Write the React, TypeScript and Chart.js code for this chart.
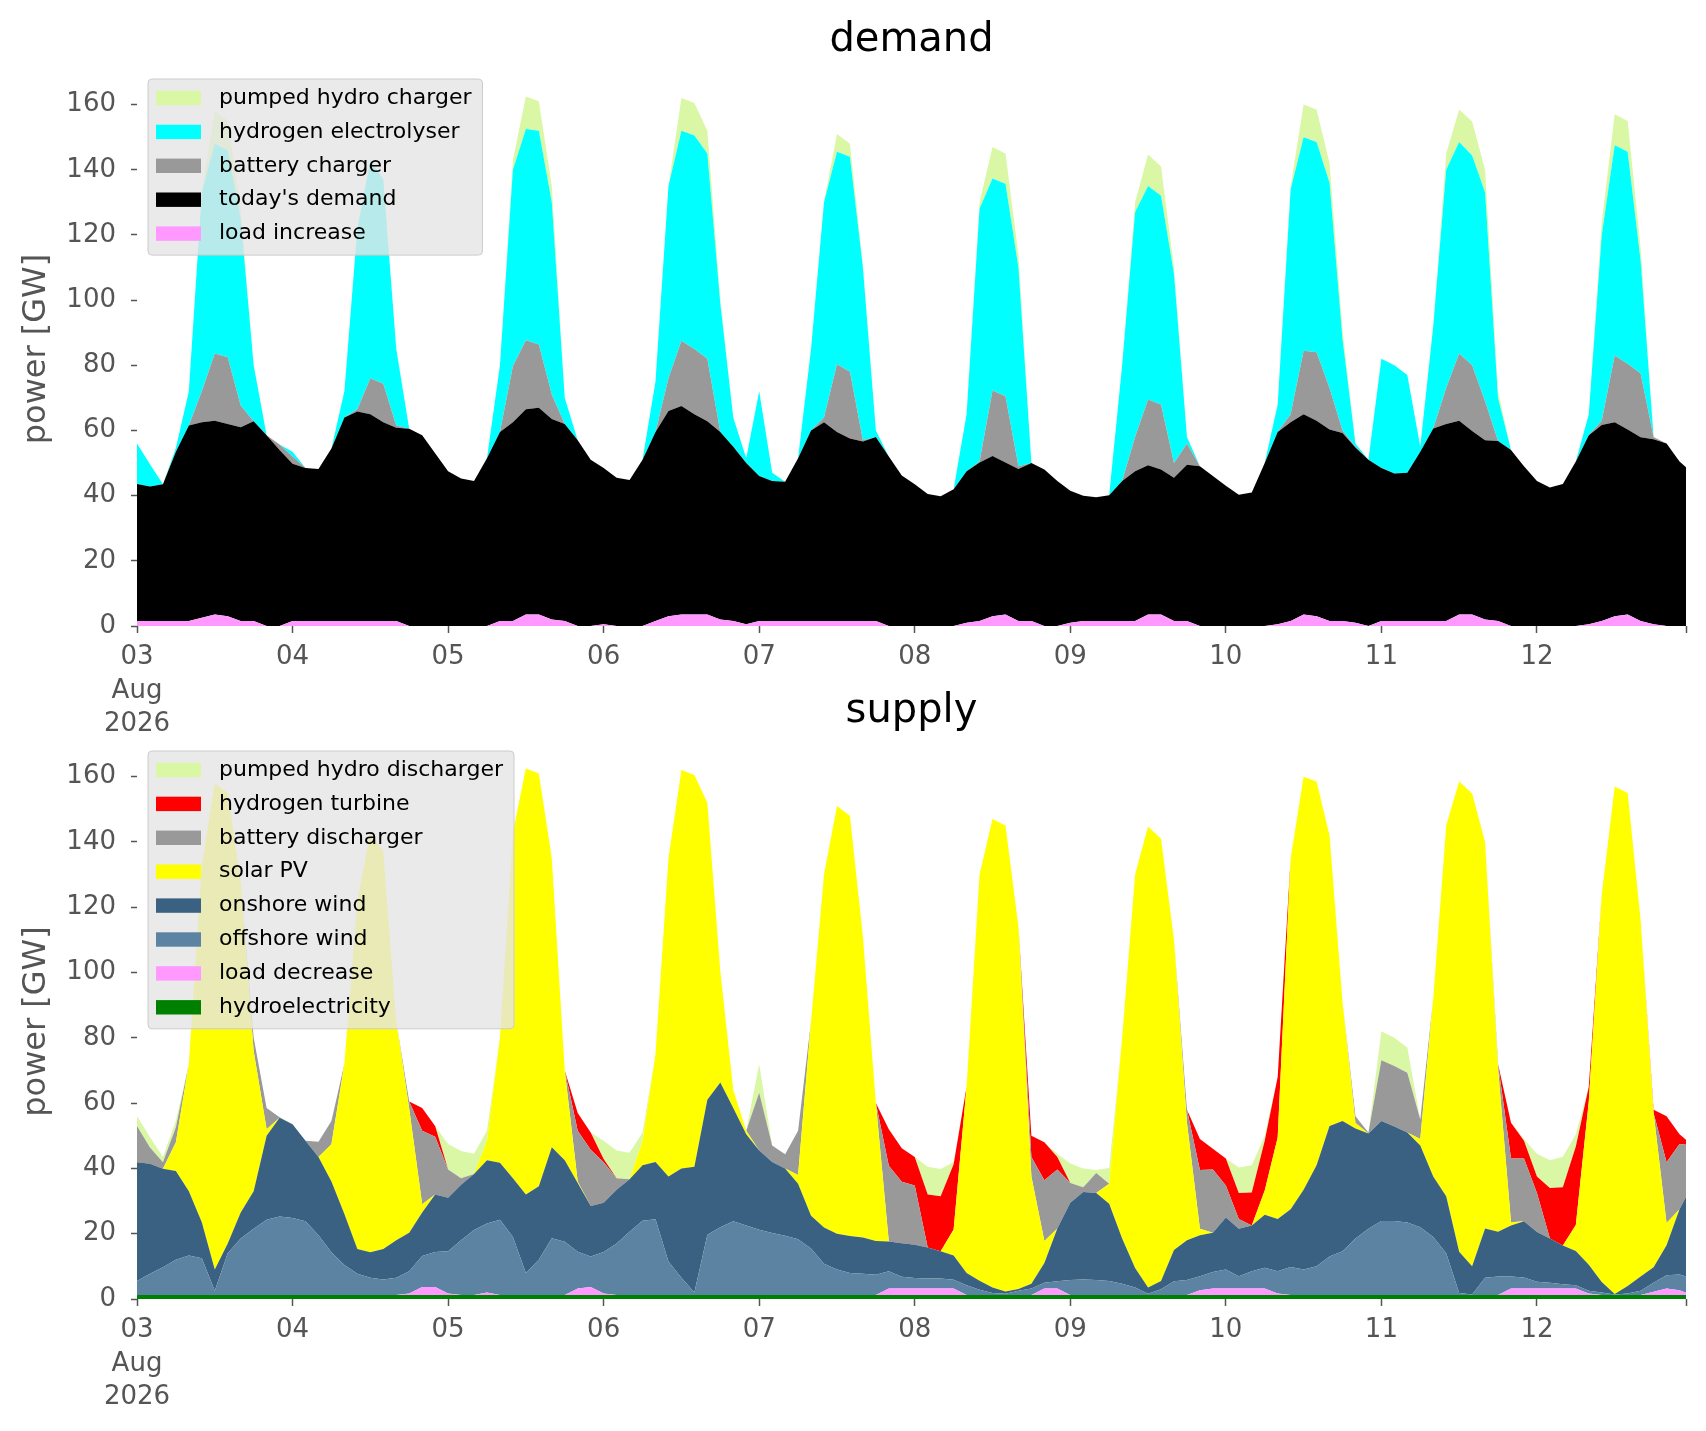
import React, { useEffect, useRef } from "react";
import { Chart, registerables } from "chart.js";
Chart.register(...registerables);

// time axis: 2-hourly steps from 03 Aug 2026 00:00 (in hours)
const HOURS = Array.from({ length: 121 }, (_, k) => 2 * k);
const DAYS = HOURS.map((h) => h / 24);
const DAY_TICKS = [0, 1, 2, 3, 4, 5, 6, 7, 8, 9];
const DAY_LABELS = ["03", "04", "05", "06", "07", "08", "09", "10", "11", "12"];
const MONTH_LABEL = "Aug";
const YEAR_LABEL = "2026";
const X_MAX_HOURS = 239;
const Y_TICKS = [0, 20, 40, 60, 80, 100, 120, 140, 160];

// ---------------- demand (GW) ----------------
const loadIncrease = [
  1.5, 1.5, 1.5, 1.5, 1.5, 2.5, 3.5, 3, 1.5, 1.5,
  0, 0, 1.5, 1.5, 1.5, 1.5, 1.5, 1.5, 1.5, 1.5,
  1.5, 0, 0, 0, 0, 0, 0, 0, 1.5, 1.5,
  3.5, 3.5, 2, 1.5, 0, 0, 0.5, 0, 0, 0,
  1.5, 3, 3.5, 3.5, 3.5, 2, 1.5, 0.5, 1.5, 1.5,
  1.5, 1.5, 1.5, 1.5, 1.5, 1.5, 1.5, 1.5, 0, 0,
  0, 0, 0, 0, 1, 1.5, 3, 3.5, 1.5, 1.5,
  0, 0, 1, 1.5, 1.5, 1.5, 1.5, 1.5, 3.5, 3.5,
  1.5, 1.5, 0, 0, 0, 0, 0, 0, 0.5, 1.5,
  3.5, 3, 1.5, 1.5, 1, 0, 1.5, 1.5, 1.5, 1.5,
  1.5, 1.5, 3.5, 3.5, 2, 1.5, 0, 0, 0, 0,
  0, 0, 0.5, 1.5, 3, 3.5, 1.5, 0.5, 0, 0,
  0,
];
const todaysDemand = [
  42.1, 41.3, 42, 52, 60, 60, 59.5, 59, 59.5, 61.3,
  58.5, 54, 48.3, 47, 46.7, 53, 62.5, 64.3, 63.5, 61,
  59.3, 60.5, 58.5, 53, 47.5, 45.3, 44.5, 51.5, 58, 61,
  63, 63.5, 61.5, 60.5, 57, 51, 48, 45.5, 44.8, 51,
  58, 63, 64, 61.5, 59.3, 57.5, 53.5, 49.5, 44.5, 43,
  42.8, 50, 58.5, 61, 58, 56, 55.1, 56.5, 52, 46.2,
  43.5, 40.5, 39.8, 42, 46.5, 48.7, 49.2, 46.7, 46.7, 48.5,
  48, 44.5, 40.5, 38.5, 38, 38.6, 43, 46, 45.8, 44.5,
  44, 48, 49, 46, 43, 40.3, 41, 50, 59, 61,
  61.5, 60, 58.8, 57.7, 53.8, 51, 47, 45.3, 45.5, 52,
  59.1, 60.5, 59.5, 56.3, 55, 55.3, 54, 49, 44.5, 42.5,
  43.6, 50.5, 58, 60.2, 59.5, 56.8, 56.4, 56.8, 56, 50.5,
  47,
];
const batteryCharger = [
  0, 0, 0, 0, 0, 9.5, 20.6, 20.5, 6.7, 0,
  0, 1.7, 2.2, 0, 0, 0, 0, 0.7, 11, 11.8,
  0.7, 0, 0, 0, 0, 0, 0, 0, 0, 17.3,
  21.2, 19.4, 7.5, 0, 0, 0, 0, 0, 0, 0,
  0, 10, 20, 20, 19.2, 0, 0, 0, 0, 0,
  0, 0, 0, 1.5, 20.8, 20.5, 0.4, 0, 0, 0,
  0, 0, 0, 0, 0, 0.3, 20.1, 20.3, 0.8, 0,
  0, 0, 0, 0, 0, 0, 0, 10.5, 20.2, 20,
  4.5, 6.5, 0, 0, 0, 0, 0, 0, 0, 2.5,
  19.5, 21, 12.7, 0.8, 0.2, 0, 0, 0, 0, 0,
  0, 11, 20.6, 20.2, 12, 0, 0, 0, 0, 0,
  0, 0, 0, 1.3, 20.5, 20.2, 19.6, 0.7, 0, 0,
  0,
];
const hydrogenElectrolyser = [
  12.4, 6.8, 0, 1.1, 10.5, 61, 64.4, 63.5, 57.3, 17.2,
  0, 0, 1.5, 0, 0, 0, 8, 55.5, 67, 62.7,
  23.5, 0, 0, 0, 0, 0, 0, 0, 20.5, 60.2,
  64.8, 65.6, 59, 8, 0, 0, 0, 0, 0, 0,
  15.5, 59, 64.5, 65.5, 63, 39.5, 9, 1.5, 26, 2.5,
  0, 0, 25, 66, 65.2, 66, 53, 2, 0, 0,
  0, 0, 0, 0, 17.5, 77.5, 65, 65.2, 61, 0,
  0, 0, 0, 0, 0, 0, 35.5, 69, 65.5, 64,
  58, 2, 0, 0, 0, 0, 0, 0, 8.5, 69,
  65.5, 64.5, 63, 28, 1, 0, 33.5, 33.2, 30, 1.5,
  31.4, 67, 64.9, 64.4, 64, 13.2, 0, 0, 0, 0,
  0, 0, 6.5, 57, 64.5, 65, 34.5, 0, 0, 0,
  0,
];
const pumpedHydroCharger = [
  0, 0, 0, 0, 0, 0, 10, 9, 3, 0,
  0, 0, 0, 0, 0, 0, 0, 0, 0, 0,
  0, 0, 0, 0, 0, 0, 0, 0, 0, 3,
  10, 9, 5, 0, 0, 0, 0, 0, 0, 0,
  0, 0, 10, 10, 7, 1.5, 0, 0, 0, 0,
  0, 0, 0, 0, 5.5, 4, 1, 0, 0, 0,
  0, 0, 0, 0, 0, 2, 9.7, 9.3, 4, 0,
  0, 0, 0, 0, 0, 0, 0, 3, 9.7, 9,
  2, 0, 0, 0, 0, 0, 0, 0, 0, 1,
  10, 10, 6, 3, 0, 0, 0, 0, 0, 0,
  0, 5, 10, 10.4, 7, 2, 0, 0, 0, 0,
  0, 0, 0, 4, 9.5, 9.5, 4, 0, 0, 0,
  0,
];

// ---------------- supply (GW) ----------------
const hydroelectricity = [
  1.2, 1.2, 1.2, 1.2, 1.2, 1.2, 1.2, 1.2, 1.2, 1.2,
  1.2, 1.2, 1.2, 1.2, 1.2, 1.2, 1.2, 1.2, 1.2, 1.2,
  1.2, 1.2, 1.2, 1.2, 1.2, 1.2, 1.2, 1.2, 1.2, 1.2,
  1.2, 1.2, 1.2, 1.2, 1.2, 1.2, 1.2, 1.2, 1.2, 1.2,
  1.2, 1.2, 1.2, 1.2, 1.2, 1.2, 1.2, 1.2, 1.2, 1.2,
  1.2, 1.2, 1.2, 1.2, 1.2, 1.2, 1.2, 1.2, 1.2, 1.2,
  1.2, 1.2, 1.2, 1.2, 1.2, 1.2, 1.2, 1.2, 1.2, 1.2,
  1.2, 1.2, 1.2, 1.2, 1.2, 1.2, 1.2, 1.2, 1.2, 1.2,
  1.2, 1.2, 1.2, 1.2, 1.2, 1.2, 1.2, 1.2, 1.2, 1.2,
  1.2, 1.2, 1.2, 1.2, 1.2, 1.2, 1.2, 1.2, 1.2, 1.2,
  1.2, 1.2, 1.2, 1.2, 1.2, 1.2, 1.2, 1.2, 1.2, 1.2,
  1.2, 1.2, 1.2, 1.2, 1.2, 1.2, 1.2, 1.2, 1.2, 1.2,
  1.2,
];
const loadDecrease = [
  0, 0, 0, 0, 0, 0, 0, 0, 0, 0,
  0, 0, 0, 0, 0, 0, 0, 0, 0, 0,
  0, 0.5, 2.5, 2.5, 0.5, 0, 0, 0.8, 0, 0,
  0, 0, 0, 0, 2, 2.5, 0.5, 0, 0, 0,
  0, 0, 0, 0, 0, 0, 0, 0, 0, 0,
  0, 0, 0, 0, 0, 0, 0, 0, 2, 2,
  2, 2, 2, 2, 0, 0, 0, 0, 0, 0,
  2, 2, 0, 0, 0, 0, 0, 0, 0, 0,
  0, 0, 1.5, 2, 2, 2, 2, 2, 0.5, 0,
  0, 0, 0, 0, 0, 0, 0, 0, 0, 0,
  0, 0, 0, 0, 0, 0, 2, 2, 2, 2,
  2, 2, 0.5, 0, 0, 0, 0, 1, 2, 1.5,
  0,
];
const offshoreWind = [
  4.3, 6.5, 8.5, 10.8, 12.1, 11.3, 1.3, 12.8, 17.3, 20.3,
  23.1, 24.1, 23.6, 22.6, 18.3, 13.1, 9.2, 6.5, 5.3, 4.8,
  5.3, 6.8, 9.5, 10.7, 12.9, 16.8, 19.9, 21.1, 23.1, 17.8,
  6.8, 10.8, 17.4, 16.3, 11.3, 9.3, 12.7, 15.8, 19.4, 22.8,
  23.2, 10.3, 5.3, 0.8, 18.5, 20.8, 22.6, 21.3, 20, 19,
  18.2, 17.1, 14.3, 9.6, 7.8, 6.8, 6.5, 6.2, 5.3, 3.6,
  3.2, 3.1, 3.1, 2.7, 3, 1.6, 0.6, 0.4, 1.3, 2,
  1.8, 2.2, 4.6, 4.8, 4.6, 4.3, 3.5, 2.3, 0.4, 1.8,
  4.2, 4.6, 4.3, 5.1, 5.8, 3.8, 5.3, 6.4, 6.8, 8.6,
  7.8, 8.8, 11.8, 13.4, 17.3, 20.3, 22.7, 22.7, 22.2, 20.8,
  17.8, 12.8, 0.6, 0.2, 5.3, 5.7, 3.7, 3.4, 2.1, 1.8,
  1.3, 1, 0.8, 0.8, 0.2, 0.5, 1.3, 2.8, 4.1, 4.8,
  5.1,
];
const onshoreWind = [
  36.4, 33.7, 30.2, 27.2, 19.7, 11, 6.5, 3, 8, 11.5,
  25.7, 30.2, 28.7, 24.7, 24, 21.7, 15.6, 7.6, 7.8, 9.3,
  11.5, 11.8, 13.3, 17.6, 16.4, 17, 17.2, 19.4, 17.4, 18,
  24, 22.5, 27.9, 25, 21, 15.5, 15.1, 16.5, 16.1, 17,
  17.6, 26, 33.5, 38.5, 41.3, 44.3, 34.7, 28, 24.3, 21.8,
  20.6, 17, 10, 11.1, 11, 11.3, 11.1, 10.4, 9.1, 10.3,
  10.2, 9.5, 8.3, 7.4, 3.8, 2.8, 1.7, 0.7, 0.6, 1.5,
  6, 16.2, 23.7, 26.8, 26.7, 23.7, 13.8, 6, 1.9, 2.5,
  9.6, 12.2, 12.5, 12, 16, 14.5, 14, 16.2, 16, 17.7,
  24.5, 31, 40, 39.9, 33.7, 29.2, 30.6, 28.9, 27.6, 25,
  18.5, 17.5, 12.7, 8.6, 15.1, 13.7, 15.6, 17.2, 15.2, 13.5,
  11.9, 10.5, 8, 3.2, 0.1, 2.3, 4.4, 4.7, 9.2, 20,
  28.7,
];
const solarPV = [
  0, 0, 0, 8.8, 39, 109.5, 149, 138, 101.5, 43,
  2, 0, 0, 0, 0, 11.4, 46, 106.7, 128.7, 121.7,
  67, 38, 2.5, 0, 0, 0, 0, 6, 38.3, 106,
  130.5, 126.5, 88.5, 27.5, 0.5, 0, 0, 0, 0, 7.5,
  33, 97.5, 122, 120, 91, 34.2, 5.5, 1, 0, 0,
  0, 2.7, 59.5, 108.1, 131, 128.7, 92.2, 42.2, 0, 0,
  0, 0, 0, 8, 57, 124.4, 143.5, 142.7, 110.9, 32.8,
  6.8, 0, 0, 0, 0, 6.1, 61.5, 120.5, 141.2, 135.5,
  95, 36, 2, 0, 0, 0, 0, 7.4, 25, 107.5,
  126.5, 117.5, 89, 36.5, 1.7, 0, 0, 0, 0, 2,
  54.5, 113.5, 144, 144.8, 118.4, 50, 1, 0, 0, 0,
  0, 8, 50, 118.8, 155.5, 151, 109.1, 47.3, 6.8, 0,
  0,
];
const batteryDischarger = [
  11.1, 5, 2, 4.6, 0, 0, 0, 0, 0, 4,
  6.5, 0.2, 0, 0, 4.7, 7.1, 0, 0, 0, 0,
  0, 2.2, 22.5, 17.7, 8.7, 2, 0, 0, 0, 0,
  0, 0, 0, 0, 15.5, 17.2, 12.4, 3.5, 0, 0,
  0, 0, 0, 0, 0, 0, 0, 0, 17.7, 5,
  4.3, 13.5, 0, 0, 0, 0, 0, 0, 23.2, 18.8,
  18.2, 0, 0, 0, 0, 0, 0, 0, 0, 6,
  18.6, 18.1, 6, 1.4, 6.1, 0, 0, 0, 0, 0,
  0, 4, 18, 19.4, 9.8, 3, 0, 0, 0, 0,
  0, 0, 0, 0, 2.1, 0.3, 18.6, 18.6, 18.3, 6,
  0, 0, 0, 0, 0, 1.4, 19.5, 19.2, 12, 0,
  0, 0, 0, 0, 0, 0, 0, 0, 18.6, 20,
  12,
];
const hydrogenTurbine = [
  0, 0, 0, 0, 0, 0, 0, 0, 0, 0,
  0, 0, 0, 0, 0, 0, 0, 0, 0, 0,
  0, 0, 7, 3.3, 0, 0, 0, 0, 0, 0,
  0, 0, 0, 0, 5.5, 5.3, 1, 0, 0, 0,
  0, 0, 0, 0, 0, 0, 0, 0, 0, 0,
  0, 0, 0, 0, 0, 0, 0, 0, 11.2, 10.3,
  8.7, 16.2, 16.9, 20, 0, 0, 0, 0, 0, 6.5,
  11.6, 3.8, 0, 0, 0, 0, 0, 0, 0, 0,
  0, 0, 9.5, 6.3, 8.2, 8, 10.1, 15.3, 18.5, 0,
  0, 0, 0, 0, 0, 0, 0, 0, 0, 0,
  0, 0, 0, 0, 0, 0, 11, 5.5, 5, 15.5,
  17.8, 24, 4.5, 0, 0, 0, 0, 1, 14.1, 3,
  0,
];
const pumpedHydroDischarger = [
  3, 3.2, 1.6, 2, 0, 0, 0, 0, 0, 0,
  0, 0, 0, 0, 0, 0, 0, 0, 0, 0,
  0, 0, 0, 0, 7.8, 8.3, 6.2, 3, 0, 0,
  0, 0, 0, 0, 0, 0, 5.6, 8.5, 8.1, 2.5,
  0, 0, 0, 0, 0, 0, 0, 0, 8.8, 0,
  0, 0, 0, 0, 0, 0, 0, 0, 0, 0,
  0, 8.5, 8.3, 0.7, 0, 0, 0, 0, 0, 0,
  0, 1, 6, 5.8, 0.9, 4.8, 0, 0, 0, 0,
  0, 0, 0, 0, 0, 7.8, 8.4, 1.5, 0, 0,
  0, 0, 0, 0, 0, 0, 8.9, 8.6, 7.7, 0,
  0, 0, 0, 0, 0, 0, 0, 0.5, 7, 8.5,
  9.4, 3.8, 0, 0, 0, 0, 0, 0, 0, 0,
  0,
];

const FONT = "'DejaVu Sans', 'Liberation Sans', sans-serif";
const TICK_COLOR = "#555555";

type Series = { label: string; data: number[]; color: string };

const demandSeries: Series[] = [
  { label: "load increase", data: loadIncrease, color: "#ff99ff" },
  { label: "today's demand", data: todaysDemand, color: "#000000" },
  { label: "battery charger", data: batteryCharger, color: "#999999" },
  { label: "hydrogen electrolyser", data: hydrogenElectrolyser, color: "#00ffff" },
  { label: "pumped hydro charger", data: pumpedHydroCharger, color: "#daf7a6" },
];
const supplySeries: Series[] = [
  { label: "hydroelectricity", data: hydroelectricity, color: "#008000" },
  { label: "load decrease", data: loadDecrease, color: "#ff99ff" },
  { label: "offshore wind", data: offshoreWind, color: "#5d83a3" },
  { label: "onshore wind", data: onshoreWind, color: "#3b6182" },
  { label: "solar PV", data: solarPV, color: "#ffff00" },
  { label: "battery discharger", data: batteryDischarger, color: "#999999" },
  { label: "hydrogen turbine", data: hydrogenTurbine, color: "#ff0000" },
  { label: "pumped hydro discharger", data: pumpedHydroDischarger, color: "#daf7a6" },
];

const CANVAS_W = 1706;
const AXIS_LEFT = 137;
const PLOT_RIGHT = 1686;

function boxLegend(series: Series[]) {
  return {
    id: "boxLegend",
    afterDraw(chart: any) {
      const ctx = chart.ctx as CanvasRenderingContext2D;
      const items = [...series].reverse();
      ctx.save();
      ctx.font = `22px ${FONT}`;
      const maxW = Math.max(...items.map((i) => ctx.measureText(i.label).width));
      const left = 148;
      const top = chart.chartArea.top + 7;
      const pitch = 33.9;
      const w = 71 + maxW + 11;
      const h = pitch * items.length + 6.6;
      const r = 4;
      ctx.beginPath();
      ctx.moveTo(left + r, top);
      ctx.lineTo(left + w - r, top);
      ctx.quadraticCurveTo(left + w, top, left + w, top + r);
      ctx.lineTo(left + w, top + h - r);
      ctx.quadraticCurveTo(left + w, top + h, left + w - r, top + h);
      ctx.lineTo(left + r, top + h);
      ctx.quadraticCurveTo(left, top + h, left, top + h - r);
      ctx.lineTo(left, top + r);
      ctx.quadraticCurveTo(left, top, left + r, top);
      ctx.closePath();
      ctx.fillStyle = "rgba(229,229,229,0.8)";
      ctx.fill();
      ctx.strokeStyle = "#cccccc";
      ctx.lineWidth = 1;
      ctx.stroke();
      items.forEach((it, i) => {
        const cy = top + 19 + pitch * i;
        ctx.fillStyle = it.color;
        ctx.fillRect(156, cy - 7.2, 45, 14.4);
        ctx.fillStyle = "#000000";
        ctx.textBaseline = "middle";
        ctx.textAlign = "left";
        ctx.fillText(it.label, 219, cy);
      });
      ctx.restore();
    },
  };
}

function makeConfig(title: string, series: Series[], xAxisHeight: number, titlePad: { top: number; bottom: number }) {
  return {
    type: "line" as const,
    data: {
      labels: DAYS,
      datasets: series.map((s, i) => ({
        label: s.label,
        data: s.data,
        backgroundColor: s.color,
        borderColor: s.color,
        borderWidth: 0,
        pointRadius: 0,
        pointHoverRadius: 0,
        tension: 0,
        fill: i === 0 ? "origin" : "-1",
      })),
    },
    options: {
      animation: false,
      responsive: false,
      events: [],
      layout: { padding: { left: 0, right: CANVAS_W - PLOT_RIGHT, top: 0, bottom: 0 } },
      plugins: {
        legend: { display: false },
        tooltip: { enabled: false },
        title: {
          display: true,
          text: title,
          fullSize: false,
          color: "#000000",
          font: { family: FONT, size: 40, weight: "normal" },
          padding: titlePad,
        },
      },
      scales: {
        x: {
          type: "linear",
          min: 0,
          max: X_MAX_HOURS / 24,
          afterBuildTicks: (scale: any) => {
            scale.ticks = [...DAY_TICKS, X_MAX_HOURS / 24].map((v) => ({ value: v }));
          },
          afterFit: (scale: any) => {
            scale.height = xAxisHeight;
          },
          ticks: {
            autoSkip: false,
            maxRotation: 0,
            color: TICK_COLOR,
            padding: 8,
            font: { family: FONT, size: 26, lineHeight: 1.28 },
            callback: (value: number) => {
              const idx = DAY_TICKS.indexOf(Math.round(value * 1000) / 1000);
              if (idx < 0) return "";
              if (idx === 0) return [DAY_LABELS[0], MONTH_LABEL, YEAR_LABEL];
              return DAY_LABELS[idx];
            },
          },
          grid: {
            drawOnChartArea: false,
            drawTicks: true,
            tickLength: 7,
            tickColor: TICK_COLOR,
            tickWidth: 1.5,
          },
          border: { display: false },
        },
        y: {
          stacked: true,
          min: 0,
          max: 170,
          afterBuildTicks: (scale: any) => {
            scale.ticks = Y_TICKS.map((v) => ({ value: v }));
          },
          afterFit: (scale: any) => {
            scale.width = AXIS_LEFT;
          },
          ticks: {
            color: TICK_COLOR,
            padding: 15,
            font: { family: FONT, size: 26 },
          },
          grid: {
            drawOnChartArea: false,
            drawTicks: true,
            tickLength: 6,
            tickColor: TICK_COLOR,
            tickWidth: 1.5,
          },
          border: { display: false },
          title: {
            display: true,
            text: "power [GW]",
            color: TICK_COLOR,
            font: { family: FONT, size: 32 },
            padding: { top: 17, bottom: 0 },
          },
        },
      },
    },
    plugins: [boxLegend(series)],
  };
}

export default function App() {
  const topRef = useRef<HTMLCanvasElement>(null);
  const botRef = useRef<HTMLCanvasElement>(null);

  useEffect(() => {
    document.body.style.margin = "0";
    document.body.style.background = "#ffffff";
    const c1 = new Chart(topRef.current as HTMLCanvasElement, makeConfig("demand", demandSeries, 124, { top: 17, bottom: 7 }) as any);
    const c2 = new Chart(botRef.current as HTMLCanvasElement, makeConfig("supply", supplySeries, 132, { top: 12, bottom: 8 }) as any);
    return () => {
      c1.destroy();
      c2.destroy();
    };
  }, []);

  return (
    <div style={{ position: "relative", width: CANVAS_W, height: 1431, background: "#ffffff", overflow: "hidden" }}>
      <canvas
        ref={topRef}
        width={CANVAS_W}
        height={750}
        style={{ position: "absolute", left: 0, top: 0, width: CANVAS_W, height: 750 }}
      />
      <canvas
        ref={botRef}
        width={CANVAS_W}
        height={755}
        style={{ position: "absolute", left: 0, top: 676, width: CANVAS_W, height: 755 }}
      />
    </div>
  );
}
